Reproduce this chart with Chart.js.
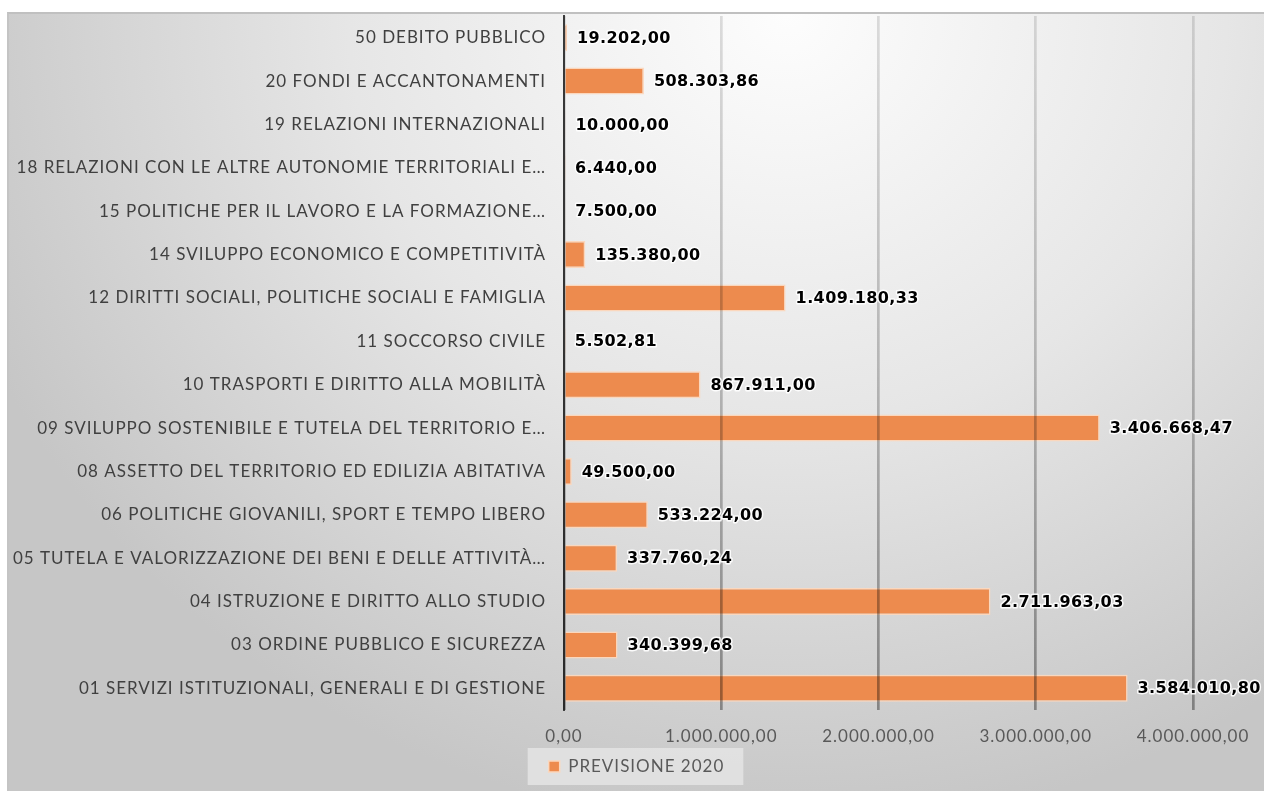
<!DOCTYPE html>
<html>
<head>
<meta charset="utf-8">
<script src="https://cdn.jsdelivr.net/npm/chart.js@4.4.1/dist/chart.umd.min.js"></script>
<style>
  html, body { margin: 0; padding: 0; background: #ffffff; }
  #frame {
    position: absolute; left: 7px; top: 12px; width: 1257px; height: 779px;
    border-top: 2px solid #c0c0c0; border-left: 2px solid #c4c4c4;
    box-sizing: border-box;
    background: radial-gradient(ellipse 70% 105% at 62% 0%, #fdfdfd 0%, #e6e6e6 50%, #c6c6c6 100%);
  }
  #wrap { position: absolute; left: 0; top: 0; width: 1255px; height: 777px; }
</style>
</head>
<body>
<div id="frame"><div id="wrap"><canvas id="chart"></canvas></div></div>
<script>
// dati (dall'alto in basso)
const categorie = [
  '50 DEBITO PUBBLICO',
  '20 FONDI E ACCANTONAMENTI',
  '19 RELAZIONI INTERNAZIONALI',
  '18 RELAZIONI CON LE ALTRE AUTONOMIE TERRITORIALI E…',
  '15 POLITICHE PER IL LAVORO E LA FORMAZIONE…',
  '14 SVILUPPO ECONOMICO E COMPETITIVITÀ',
  '12 DIRITTI SOCIALI, POLITICHE SOCIALI E FAMIGLIA',
  '11 SOCCORSO CIVILE',
  '10 TRASPORTI E DIRITTO ALLA MOBILITÀ',
  '09 SVILUPPO SOSTENIBILE E TUTELA DEL TERRITORIO E…',
  '08 ASSETTO DEL TERRITORIO ED EDILIZIA ABITATIVA',
  '06 POLITICHE GIOVANILI, SPORT E TEMPO LIBERO',
  '05 TUTELA E VALORIZZAZIONE DEI BENI E DELLE ATTIVITÀ…',
  '04 ISTRUZIONE E DIRITTO ALLO STUDIO',
  '03 ORDINE PUBBLICO E SICUREZZA',
  '01 SERVIZI ISTITUZIONALI, GENERALI E DI GESTIONE'
];
const previsione2020 = [
  19202.00, 508303.86, 10000.00, 6440.00, 7500.00, 135380.00, 1409180.33, 5502.81,
  867911.00, 3406668.47, 49500.00, 533224.00, 337760.24, 2711963.03, 340399.68, 3584010.80
];
const nomeSerie = 'PREVISIONE 2020';
const assexMax = 4000000;
const assexPasso = 1000000;

// formato italiano con due decimali
const formatta = (v) => v.toLocaleString('it-IT', { minimumFractionDigits: 2, maximumFractionDigits: 2 });

// spaziatura delle lettere (il canvas la perde a ogni resize)
const spaziatura = {
  id: 'spaziatura',
  beforeLayout(chart) { chart.ctx.letterSpacing = '1px'; },
  beforeDraw(chart) { chart.ctx.letterSpacing = '1px'; }
};

// sfondo chiaro dietro la legenda
const sfondoLegenda = {
  id: 'sfondoLegenda',
  beforeDraw(chart) {
    const lg = chart.legend;
    if (!lg || !lg.legendHitBoxes.length) return;
    const b = lg.legendHitBoxes[0];
    const ctx = chart.ctx;
    ctx.save();
    ctx.fillStyle = 'rgba(228,228,228,0.85)';
    ctx.fillRect(b.left - 21, b.top - 10, b.width + 40, b.height + 20);
    ctx.restore();
  }
};

// etichette dei valori a destra delle barre
const etichetteValori = {
  id: 'etichetteValori',
  afterDraw(chart) {
    const ctx = chart.ctx;
    const meta = chart.getDatasetMeta(0);
    ctx.save();
    ctx.letterSpacing = '0.4px';
    ctx.font = 'bold 16px "DejaVu Sans"';
    ctx.textBaseline = 'middle';
    ctx.textAlign = 'left';
    ctx.lineJoin = 'round';
    meta.data.forEach((bar, i) => {
      const testo = formatta(previsione2020[i]);
      const x = bar.x + 10;
      const y = bar.y + 1;
      ctx.strokeStyle = 'rgba(255,255,255,0.9)';
      ctx.lineWidth = 3;
      ctx.strokeText(testo, x, y);
      ctx.fillStyle = '#000000';
      ctx.fillText(testo, x, y);
    });
    ctx.restore();
  }
};

// griglia più chiara in alto, più scura in basso
const coloreGriglia = (c) => {
  const area = c.chart.chartArea;
  if (!area) return 'rgba(90,90,90,0.4)';
  const g = c.chart.ctx.createLinearGradient(0, area.top, 0, area.bottom);
  g.addColorStop(0, 'rgba(0,0,0,0.12)');
  g.addColorStop(0.5, 'rgba(0,0,0,0.22)');
  g.addColorStop(1, 'rgba(0,0,0,0.36)');
  return g;
};

const ctx = document.getElementById('chart').getContext('2d');
new Chart(ctx, {
  type: 'bar',
  data: {
    labels: categorie,
    datasets: [{
      label: nomeSerie,
      data: previsione2020,
      backgroundColor: '#ed8b4e',
      borderColor: '#fbd7bd',
      borderWidth: 1.5,
      borderSkipped: 'start',
      barPercentage: 0.62,
      categoryPercentage: 1.0
    }]
  },
  options: {
    indexAxis: 'y',
    responsive: true,
    maintainAspectRatio: false,
    animation: false,
    layout: { padding: { top: 2, right: 0, bottom: 6, left: 0 } },
    scales: {
      x: {
        min: 0,
        max: assexMax,
        afterFit(scale) {
          scale.height = 37;
          scale.paddingRight = 71;
        },
        ticks: {
          stepSize: assexPasso,
          color: '#595959',
          font: { family: 'Lato', size: 17 },
          padding: 16,
          maxRotation: 0,
          callback: (v) => formatta(v)
        },
        grid: { color: coloreGriglia, lineWidth: 2.7, drawTicks: false, z: 1 },
        border: { display: false }
      },
      y: {
        afterFit(scale) {
          scale.width = 555;
          scale.paddingTop = 0;
          scale.paddingBottom = 0;
        },
        ticks: {
          color: '#404040',
          font: { family: 'Lato', size: 17 },
          padding: 18,
          autoSkip: false
        },
        grid: { display: false, drawTicks: false },
        border: { display: true, color: '#404040', width: 2 }
      }
    },
    plugins: {
      legend: {
        position: 'bottom',
        labels: {
          color: '#595959',
          font: { family: 'Lato', size: 17 },
          boxWidth: 11,
          boxHeight: 11,
          padding: 11
        }
      },
      tooltip: { enabled: false }
    }
  },
  plugins: [spaziatura, sfondoLegenda, etichetteValori]
});
</script>
</body>
</html>
